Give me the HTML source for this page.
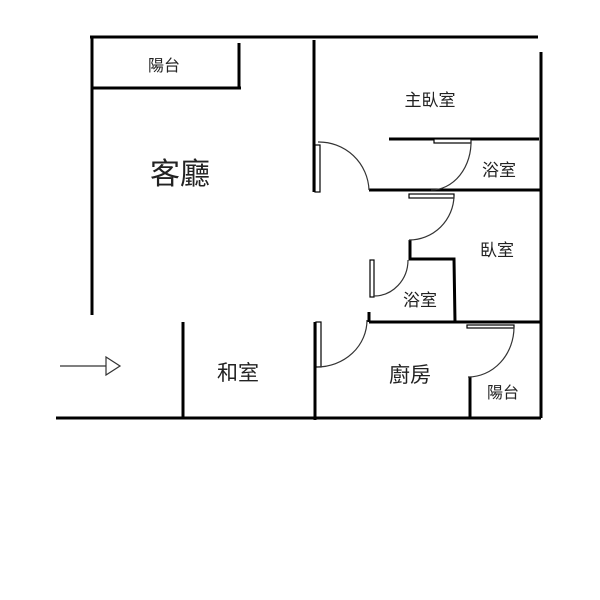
<!DOCTYPE html>
<html><head><meta charset="utf-8"><style>body{margin:0;background:#fff}svg{display:block}text{font-family:"Liberation Sans","Noto Sans CJK TC",sans-serif;fill:#222;text-anchor:middle}</style></head>
<body>
<svg width="600" height="600" viewBox="0 0 600 600">
<g stroke="#000" stroke-width="3" fill="none">
<line x1="90" y1="37" x2="538" y2="37"/>
<line x1="92" y1="37" x2="92" y2="315"/>
<line x1="92" y1="88" x2="241" y2="88"/>
<line x1="239" y1="43" x2="239" y2="88"/>
<line x1="314" y1="40" x2="314" y2="192"/>
<line x1="541" y1="52" x2="541" y2="418"/>
<line x1="389" y1="139" x2="539" y2="139"/>
<line x1="369" y1="190" x2="541" y2="190"/>
<polyline points="410,240 410,259 454,259 455,322"/>
<line x1="369" y1="312" x2="369" y2="322"/>
<line x1="369" y1="322" x2="541" y2="322"/>
<line x1="183" y1="322" x2="183" y2="418"/>
<line x1="315" y1="322" x2="315" y2="420"/>
<line x1="470" y1="377" x2="470" y2="418"/>
<line x1="56" y1="418" x2="541" y2="418"/>
</g>
<g stroke="#000" stroke-width="1.2" fill="#fff">
<rect x="315" y="145" width="5" height="47"/>
<rect x="434" y="139" width="37" height="4"/>
<rect x="409" y="194" width="45" height="4"/>
<rect x="370" y="260" width="4" height="37"/>
<rect x="316" y="322" width="5" height="45"/>
<rect x="467" y="325" width="47" height="3"/>
</g>
<g stroke="#333" stroke-width="1.2" fill="none">
<path d="M318,142 A50,50 0 0 1 369,190"/>
<path d="M471,140 A40,48 0 0 1 431,190"/>
<path d="M454,196 A45,45 0 0 1 409,240"/>
<path d="M408,260 A34,36 0 0 1 374,296"/>
<path d="M367,320 A50,47 0 0 1 317,367"/>
<path d="M514,327 A46,50 0 0 1 468,377"/>
<line x1="60" y1="366" x2="106" y2="366"/>
<polygon points="106,357 120,366 106,375"/>
</g>
<text x="164" y="71" font-size="16">陽台</text>
<text x="180" y="184" font-size="30">客廳</text>
<text x="430" y="106" font-size="17">主臥室</text>
<text x="499" y="176" font-size="17">浴室</text>
<text x="497" y="256" font-size="17">臥室</text>
<text x="420" y="306" font-size="17">浴室</text>
<text x="238" y="380" font-size="21">和室</text>
<text x="410" y="382" font-size="21">廚房</text>
<text x="503" y="398" font-size="16">陽台</text>
</svg>
</body></html>
